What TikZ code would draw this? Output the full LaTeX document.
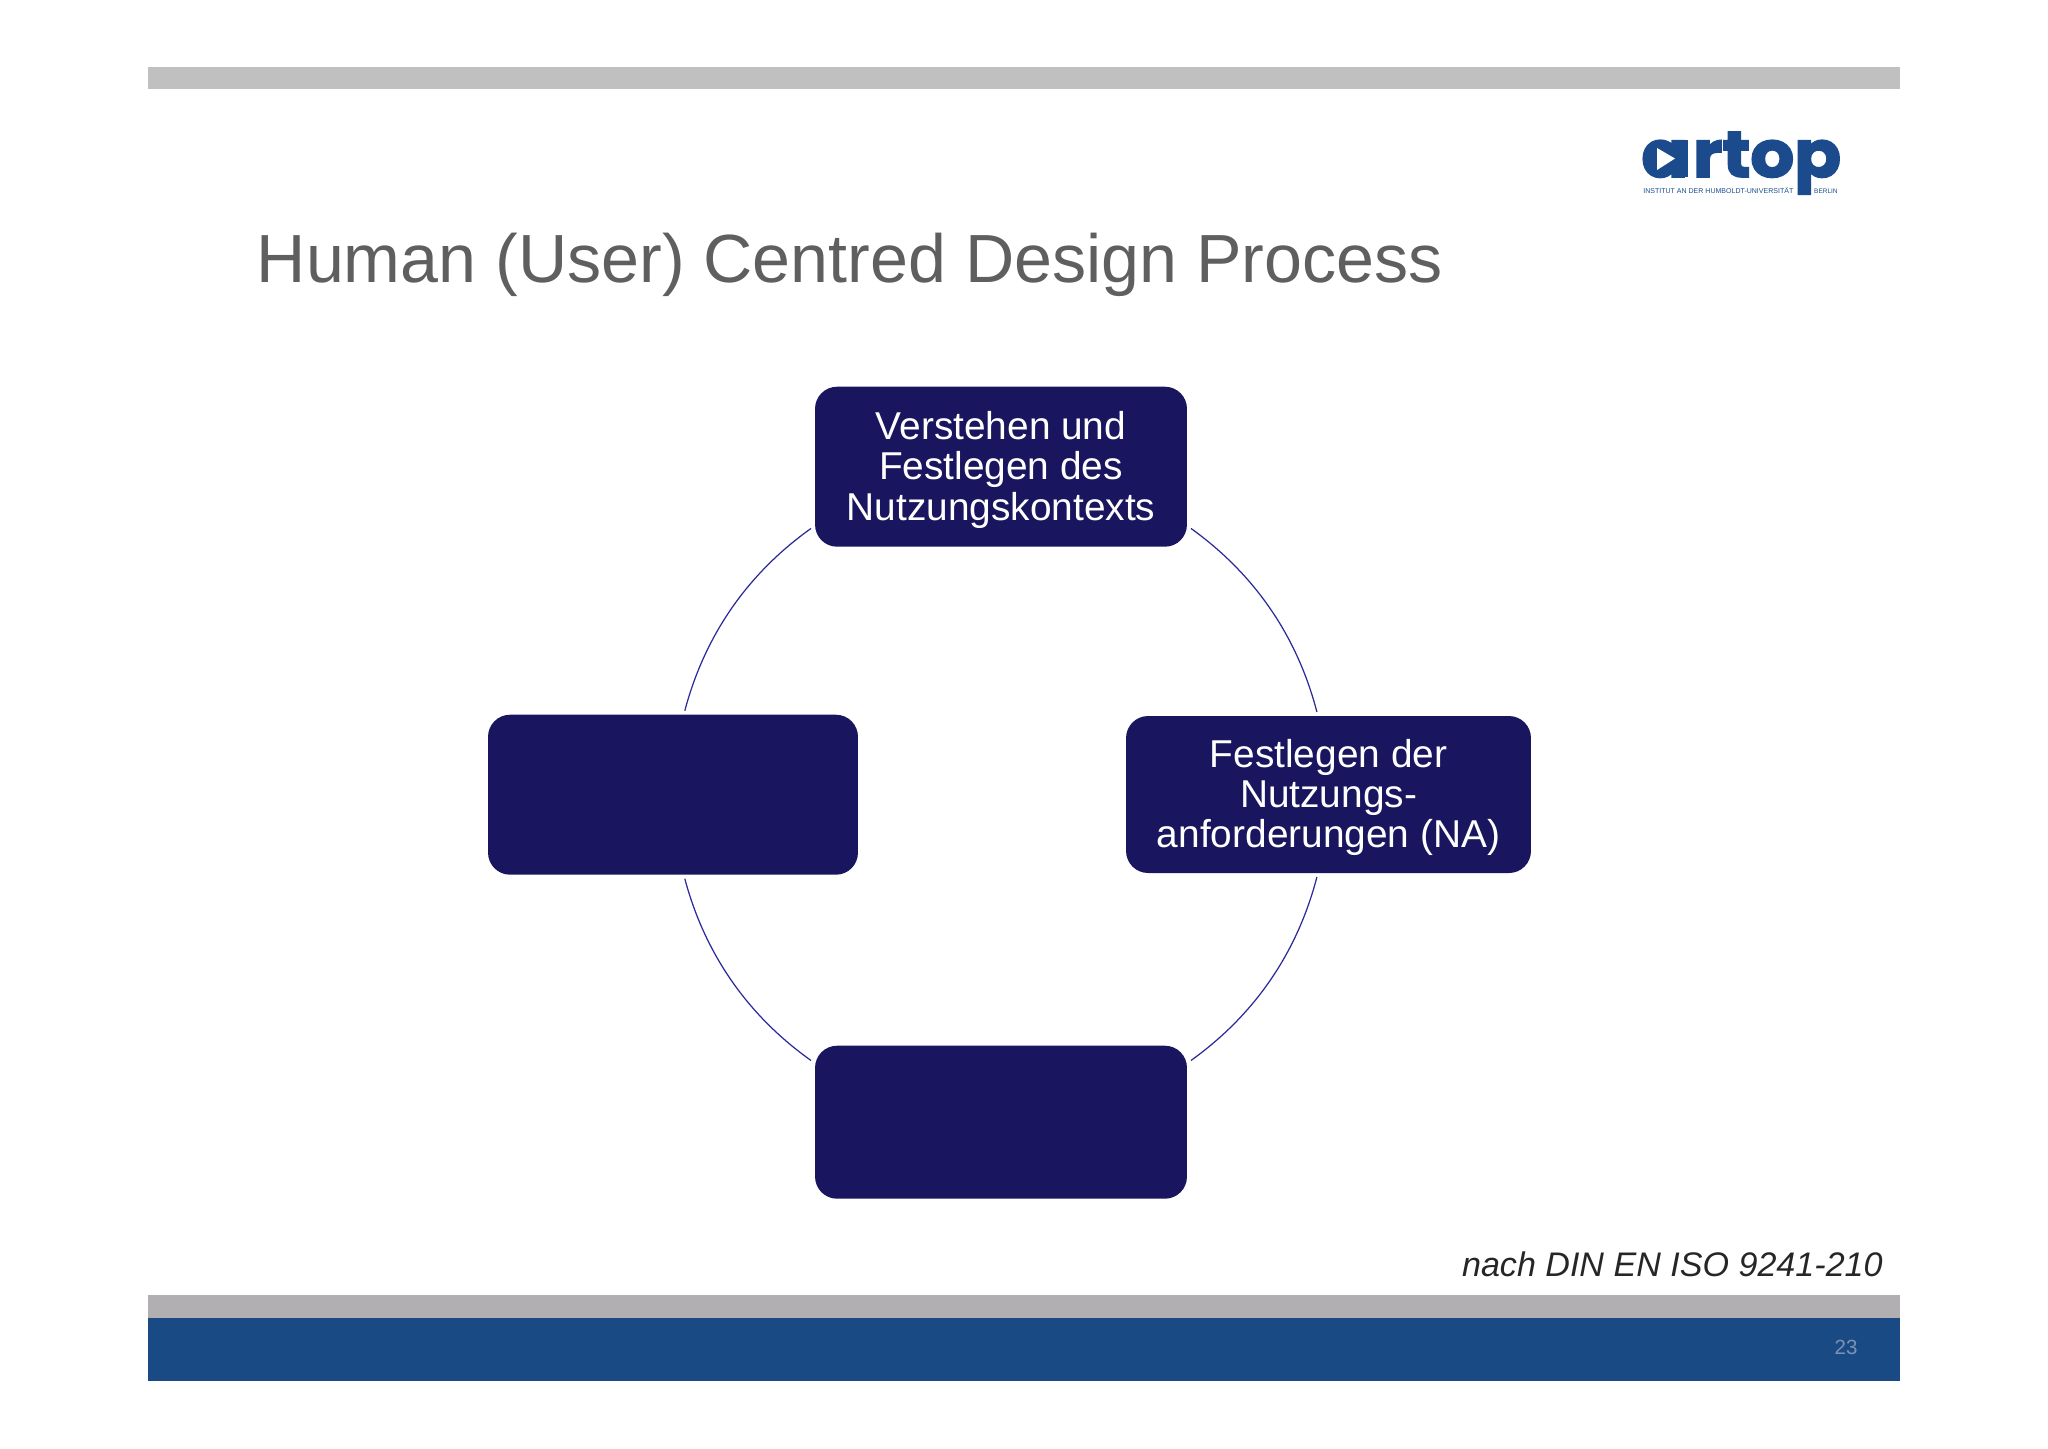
\documentclass[tikz,border=0pt]{standalone}
\usepackage{fontspec}
\usepackage{xcolor}
\setmainfont{Liberation Sans}
\newfontfamily\logofont[FakeBold=2.5]{Poppins Bold}
\definecolor{boxblue}{HTML}{19165F}
\definecolor{ringblue}{HTML}{2A2A9A}
\definecolor{barblue}{HTML}{1A4A84}
\definecolor{logoblue}{HTML}{1B4B8C}
\definecolor{topgray}{HTML}{C0C0C0}
\definecolor{lowgray}{HTML}{B1AFB1}
\definecolor{titlegray}{HTML}{5F5F5F}
\definecolor{pagenum}{HTML}{7C93B5}
\newcommand{\firstline}{\rule{0pt}{.68cm}}
\tikzset{
    stage/.style={rectangle, rounded corners=.44cm, fill=boxblue, text=white, align=center,
        inner sep=0pt, outer sep=.08cm, font=\fontsize{22.1}{23}\selectfont},
    ring/.style={draw=ringblue, line width=.7pt, bend left=19.85, looseness=.9},
    bar/.style={inner sep=0pt, outer sep=0pt, minimum width=35.04cm}
}
\begin{document}
\begin{tikzpicture}[x=.02cm,y=-.02cm]
    \useasboundingbox (0,0) rectangle (2048,1448);

    % Bars
    \node[bar, fill=topgray, minimum height=.44cm] (topbar) at (1024,78) {};
    \node[bar, fill=lowgray, minimum height=.46cm] (lowbar) at (1024,1306) {};
    \node[bar, fill=barblue, minimum height=1.26cm] (footbar) at (1024,1349.5) {};

    % Logo
    \node[inner sep=0pt, text=logoblue, font=\logofont\fontsize{37}{37}\selectfont, anchor=base west, xscale=1.06, transform shape] (logo) at (1641,177) {a\kern.09cm rtop};
    \fill[logoblue] (1661.5,158.5) circle (.37cm);
    \fill[logoblue] (1676,140) rectangle (1688,177);
    \fill[white] (1657,148) -- (1675,158.5) -- (1657,170) -- cycle;
    \node[inner sep=0pt, text=logoblue, font=\fontsize{4}{5}\selectfont, anchor=base west] (logotext) at (1643,193) {INSTITUT AN DER HUMBOLDT-UNIVERSITÄT};
    \node[inner sep=0pt, text=logoblue, font=\fontsize{3.7}{5}\selectfont, anchor=base east] (logocity) at (1838,193) {BERLIN};

    % Labels
    \node[inner sep=0pt, text=titlegray, font=\fontsize{38.8}{40}\selectfont, anchor=base west] (title) at (256.5,282.5) {Human (User) Centred Design Process};
    \node[inner sep=0pt, text=black!85, font=\itshape\fontsize{19.4}{20}\selectfont, anchor=base east] (note) at (1883,1276) {nach DIN EN ISO 9241-210};
    \node[inner sep=0pt, text=pagenum, font=\fontsize{11.7}{12}\selectfont] (page) at (1846,1347.5) {23};

    % Nodes
    \node[stage, minimum width=7.44cm, minimum height=3.2cm] (A) at (1001,466.7) {\firstline Verstehen und\\Festlegen des\\Nutzungskontexts};
    \node[stage, minimum width=8.1cm, minimum height=3.14cm] (B) at (1328.5,794.5) {\firstline Festlegen der\\Nutzungs-\\anforderungen (NA)};
    \node[stage, minimum width=7.44cm, minimum height=3.06cm] (C) at (1001,1122.2) {};
    \node[stage, minimum width=7.4cm, minimum height=3.2cm] (D) at (673,794.7) {};

    % Edges
    \path[ring]
        (A.-18) to (B.98)
        (B.-98) to (C.18)
        (C.162) to (D.-82)
        (D.82) to (A.198);
\end{tikzpicture}
\end{document}
